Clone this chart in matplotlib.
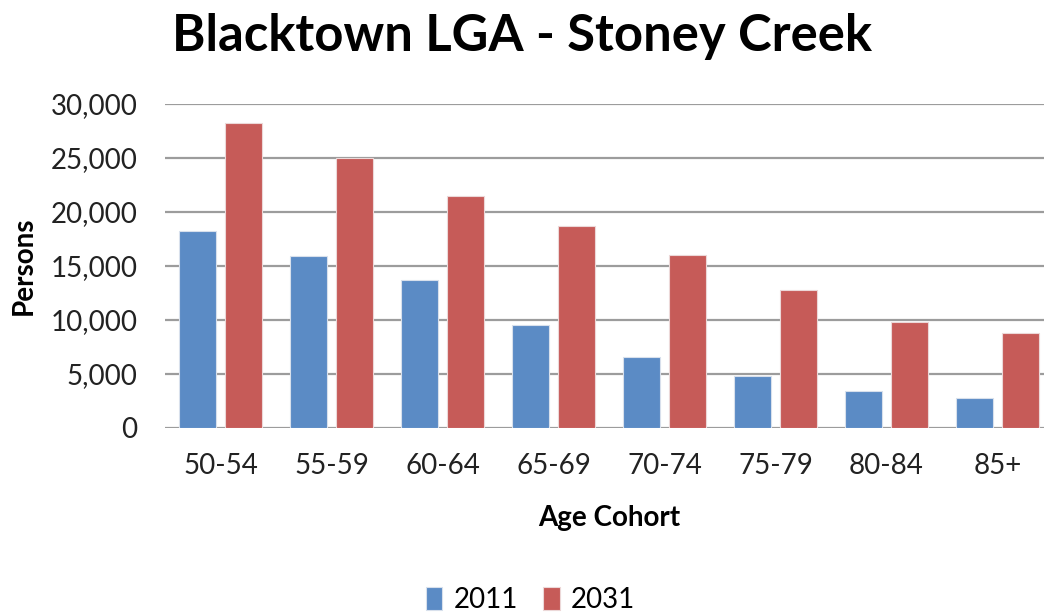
import matplotlib
matplotlib.use("Agg")
import matplotlib.pyplot as plt
import numpy as np
from matplotlib.ticker import FuncFormatter

# age cohorts and persons per year
cohorts = ["50-54", "55-59", "60-64", "65-69", "70-74", "75-79", "80-84", "85+"]
persons_2011 = [18200, 15900, 13700, 9500, 6600, 4800, 3400, 2800]
persons_2031 = [28200, 25000, 21500, 18700, 16000, 12800, 9800, 8800]
years = ["2011", "2031"]

plt.rcParams['font.family'] = ['Lato', 'DejaVu Sans']

fig = plt.figure(figsize=(10.44, 6.14), dpi=100)
# axes runs a bit past the right edge, like the original
ax = fig.add_axes([165/1044, 1 - 428/614, 888/1044, 324/614])

x = np.arange(len(cohorts))
w = 37/111
off = 23/111
ax.bar(x - off, persons_2011, width=w, color="#5B8BC5", edgecolor="#D8E0EC", linewidth=0.8, label=years[0], zorder=3)
ax.bar(x + off, persons_2031, width=w, color="#C65B58", edgecolor="#ECD8D8", linewidth=0.8, label=years[1], zorder=3)

ax.set_xlim(-0.5, 7.5)
ax.set_ylim(0, 30000)
ax.set_yticks(range(0, 30001, 5000))
ax.yaxis.set_major_formatter(FuncFormatter(lambda v, p: f"{int(v):,}"))
ax.set_xticks(x)
ax.set_xticklabels(cohorts)

ax.grid(axis="y", color="#9C9C9C", linewidth=1.6, zorder=0)
for s in ax.spines.values():
    s.set_visible(False)
ax.tick_params(axis="both", length=0, labelsize=20, colors="#222222")
ax.tick_params(axis="y", pad=20)
ax.tick_params(axis="x", pad=18)

ax.set_ylabel("Persons", fontsize=20, fontweight="bold", labelpad=10)
ax.set_xlabel("Age Cohort", fontsize=20, fontweight="bold", labelpad=19)

fig.text(0.5, 1 - 37/614, "Blacktown LGA - Stoney Creek", ha="center", va="center",
         fontsize=36.5, fontweight="bold")

fig.legend(loc="center", bbox_to_anchor=(0.508, 1 - 600/614), ncol=2, frameon=False,
           fontsize=20, handlelength=0.6, handleheight=0.9, handletextpad=0.4, columnspacing=0.9)

fig.savefig("out.png", dpi=100)
